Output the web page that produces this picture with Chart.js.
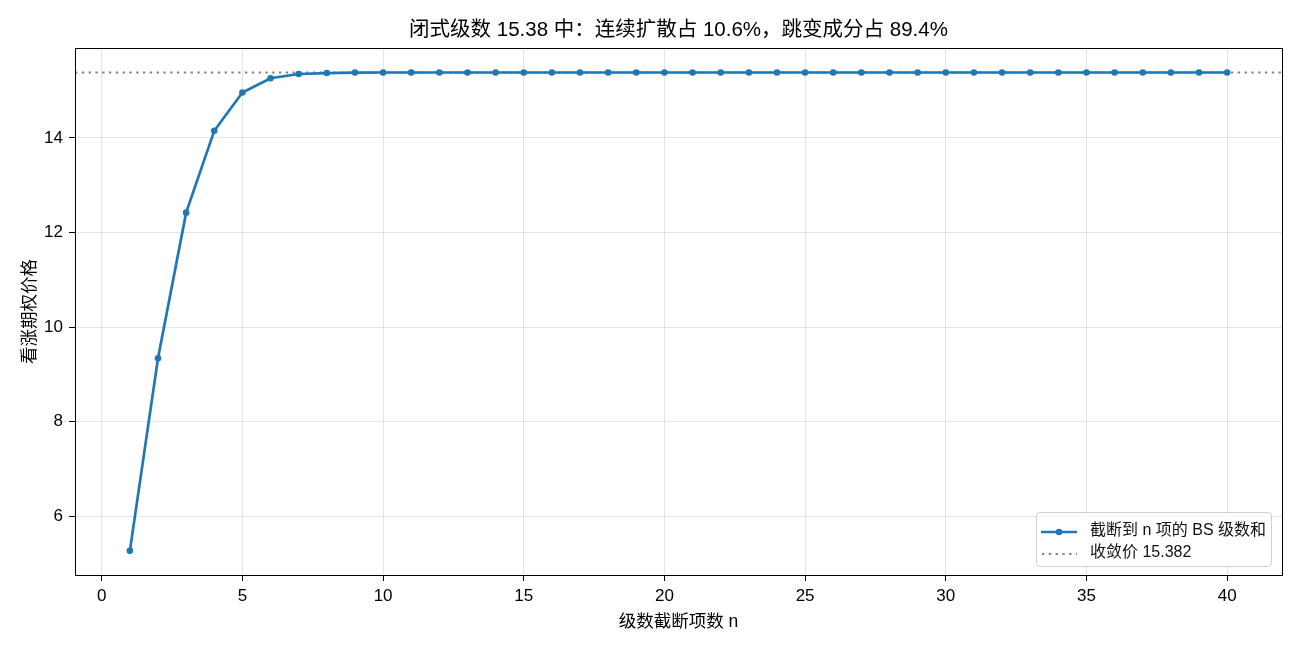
<!DOCTYPE html>
<html><head><meta charset="utf-8">
<script src="https://cdn.jsdelivr.net/npm/chart.js@4"></script>
<style>
html,body{margin:0;padding:0;background:#fff;}
#wrap{position:relative;width:1300px;height:650px;}
#legend{position:absolute;left:1036px;top:512px;width:236px;height:55px;border:1px solid #d0d0d0;border-radius:4px;background:rgba(255,255,255,0.85);font-family:"Liberation Sans","Noto Sans CJK SC",sans-serif;font-size:16px;color:#111;box-sizing:border-box;padding:4px 0 0 4px;}
#legend .row{display:flex;align-items:center;height:22px;}
#legend .sw{width:36px;height:10px;margin-right:13px;position:relative;}
</style></head>
<body><div id="wrap"><canvas id="c" width="1300" height="650"></canvas><div id="legend"></div></div>
<script>
const TITLE = '闭式级数 15.38 中：连续扩散占 10.6%，跳变成分占 89.4%';
const X_LABEL = '级数截断项数 n';
const Y_LABEL = '看涨期权价格';
const SERIES_LABEL = '截断到 n 项的 BS 级数和';
const LIMIT_LABEL = '收敛价 15.382';
const nTerms = [1,2,3,4,5,6,7,8,9,10,11,12,13,14,15,16,17,18,19,20,21,22,23,24,25,26,27,28,29,30,31,32,33,34,35,36,37,38,39,40];
const partialSums = [5.27,9.34,12.42,14.15,14.96,15.26,15.35,15.37,15.38,15.382,15.382,15.382,15.382,15.382,15.382,15.382,15.382,15.382,15.382,15.382,15.382,15.382,15.382,15.382,15.382,15.382,15.382,15.382,15.382,15.382,15.382,15.382,15.382,15.382,15.382,15.382,15.382,15.382,15.382,15.382];
const limitPrice = 15.382;
const xTicks = [0,5,10,15,20,25,30,35,40];
const yTicks = [6,8,10,12,14];
const X_MIN = -0.95, X_MAX = 41.95, Y_MIN = 4.76, Y_MAX = 15.9;

const BLUE = '#1f77b4', GRAY = '#808080';
const FONT = '"Liberation Sans", "Noto Sans CJK SC", sans-serif';

const frame = {
  id:'frame',
  afterDraw(chart){
    const a = chart.chartArea, ctx = chart.ctx;
    ctx.save(); ctx.strokeStyle='#000'; ctx.lineWidth=1;
    ctx.strokeRect(Math.round(a.left)+0.5, Math.round(a.top)+0.5, Math.round(a.right-a.left), Math.round(a.bottom-a.top));
    ctx.fillStyle='#000'; ctx.font='20.5px '+FONT; ctx.textAlign='center'; ctx.textBaseline='middle';
    ctx.fillText(TITLE, (a.left+a.right)/2, 30);
    ctx.restore();
  }
};

const chart = new Chart(document.getElementById('c'), {
  type:'line',
  data:{datasets:[
    {label:SERIES_LABEL, data:nTerms.map((n,i)=>({x:n,y:partialSums[i]})), borderColor:BLUE, backgroundColor:BLUE, borderWidth:2.7, pointRadius:3.3, pointHoverRadius:3.3, pointBackgroundColor:BLUE, pointBorderWidth:0, tension:0, order:1},
    {label:LIMIT_LABEL, data:[{x:X_MIN,y:limitPrice},{x:X_MAX,y:limitPrice}], borderColor:GRAY, borderWidth:2, borderDash:[2.3,4.5], pointRadius:0, tension:0, order:2}
  ]},
  options:{
    responsive:false, animation:false, devicePixelRatio:1,
    layout:{padding:{left:20,right:18,top:48,bottom:17}},
    plugins:{ legend:{display:false}, tooltip:{enabled:false}, title:{display:false} },
    scales:{
      x:{type:'linear', min:X_MIN, max:X_MAX,
        afterBuildTicks(s){ s.ticks = xTicks.map(v=>({value:v})); },
        afterFit(s){ s.height = 58; },
        ticks:{color:'#000', font:{family:FONT,size:17}, padding:5, maxRotation:0},
        grid:{color:'rgba(0,0,0,0.1)', tickColor:'#000', tickLength:6, lineWidth:1},
        border:{color:'#000'},
        title:{display:true, text:X_LABEL, color:'#000', font:{family:FONT,size:17.5}, padding:{top:0,bottom:0}}
      },
      y:{type:'linear', min:Y_MIN, max:Y_MAX,
        afterBuildTicks(s){ s.ticks = yTicks.map(v=>({value:v})); },
        afterFit(s){ s.width = 55; },
        ticks:{color:'#000', font:{family:FONT,size:17}, padding:6},
        grid:{color:'rgba(0,0,0,0.1)', tickColor:'#000', tickLength:6, lineWidth:1},
        border:{color:'#000'},
        title:{display:true, text:Y_LABEL, color:'#000', font:{family:FONT,size:17.5}, padding:{top:0,bottom:0}}
      }
    }
  },
  plugins:[frame]
});

const lg = document.getElementById('legend');
chart.data.datasets.forEach((ds,i)=>{
  const row = document.createElement('div'); row.className='row';
  const sw = document.createElement('div'); sw.className='sw';
  if(i===0){
    sw.innerHTML = '<svg width="36" height="10"><line x1="0" y1="5" x2="36" y2="5" stroke="'+BLUE+'" stroke-width="2.7"/><circle cx="18" cy="5" r="3.3" fill="'+BLUE+'"/></svg>';
  } else {
    sw.innerHTML = '<svg width="36" height="10"><line x1="1" y1="5" x2="36" y2="5" stroke="'+GRAY+'" stroke-width="2" stroke-dasharray="2.3,4.5"/></svg>';
  }
  const t = document.createElement('span'); t.textContent = ds.label;
  row.appendChild(sw); row.appendChild(t); lg.appendChild(row);
});
</script></body></html>
